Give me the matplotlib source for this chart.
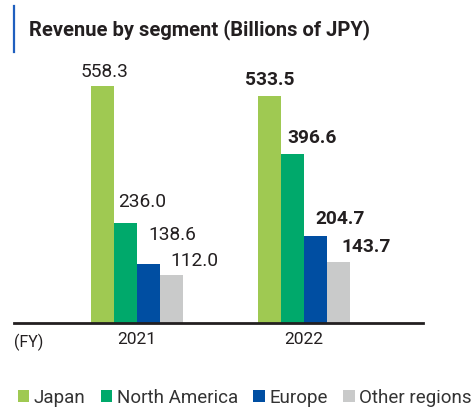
import numpy as np
import matplotlib.pyplot as plt
from matplotlib.patches import Patch
from matplotlib.lines import Line2D

plt.rcParams['font.family'] = ['Roboto', 'DejaVu Sans']

# data
years = ['2021', '2022']
segments = ['Japan', 'North America', 'Europe', 'Other regions']
japan = [558.3, 533.5]
north_america = [236.0, 396.6]
europe = [138.6, 204.7]
other = [112.0, 143.7]
bold_year = [False, True]

colors = ['#9fc952', '#00a96b', '#004ea2', '#c9caca']
text_col = '#231f20'

# label offsets from bar top centre, in pixels (dx, dy)
label_dx = [[2, 0], [17, 19.5], [23.5, 24.5], [22.5, 28]]
label_dy = [[9, 11], [16, 11], [24, 12], [9.5, 9.6]]

fig = plt.figure(figsize=(4.71, 4.16), dpi=100)
ax = fig.add_axes([14 / 471, 1 - 322.7 / 416, (423 - 14) / 471, 263 / 416])

x = np.arange(len(years))
width = 23 / 167
series = [japan, north_america, europe, other]
px2pt = 72 / 100

for i, (vals, col) in enumerate(zip(series, colors)):
    pos = x + (i - 1.5) * width
    ax.bar(pos, vals, width=width, color=col, linewidth=0)
    for j, v in enumerate(vals):
        ax.annotate(f'{v:.1f}', (pos[j], v),
                    xytext=(label_dx[i][j] * px2pt, label_dy[i][j] * px2pt),
                    textcoords='offset points', ha='center', va='baseline',
                    fontsize=13.8, color=text_col,
                    fontweight='bold' if bold_year[j] else 'normal')

ax.set_xlim(-0.7365, 1.7126)
ax.set_ylim(0, 620)
for s in ['top', 'right', 'left']:
    ax.spines[s].set_visible(False)
ax.spines['bottom'].set_linewidth(2)
ax.spines['bottom'].set_color(text_col)
ax.set_yticks([])
ax.set_xticks(x)
ax.set_xticklabels(years, fontsize=12.5, color=text_col)
ax.tick_params(axis='x', length=0, pad=7)

fig.text(14 / 471, 1 - 342 / 416, '(FY)', fontsize=11.5, color=text_col,
         ha='left', va='center')

# title with blue bar
fig.add_artist(Line2D([14 / 471, 14 / 471], [1 - 6 / 416, 1 - 52 / 416],
                      color='#1f5fbf', linewidth=1.6))
fig.text(29 / 471, 1 - 30 / 416, 'Revenue by segment (Billions of JPY)',
         fontsize=14.5, fontweight='bold', color=text_col, ha='left', va='center')

handles = [Patch(facecolor=c, linewidth=0) for c in colors]
fig.legend(handles, segments, loc='center left', bbox_to_anchor=(10 / 471, 1 - 398 / 416),
           ncol=4, frameon=False, fontsize=13.5, handlelength=0.62, handleheight=0.62,
           handletextpad=0.25, columnspacing=0.8, borderaxespad=0, labelcolor='#333333')

fig.savefig('out.png', dpi=100)
